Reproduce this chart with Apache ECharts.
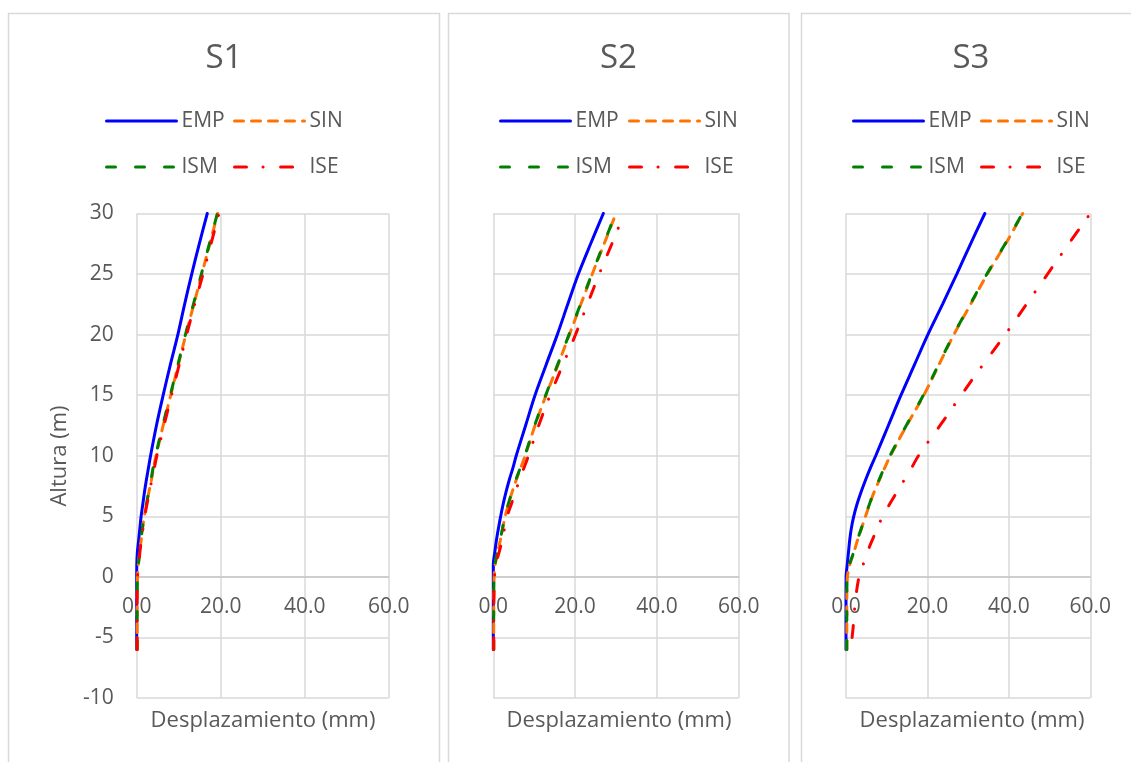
<!DOCTYPE html>
<html>
<head>
<meta charset="utf-8">
<script src="https://cdn.jsdelivr.net/npm/echarts@6.0.0/dist/echarts.min.js"></script>
<style>
html,body{margin:0;padding:0;background:#ffffff;}
#chart{width:1131px;height:762px;}
</style>
</head>
<body>
<div id="chart"></div>
<script>
// ---- Data ----
const panelTitles = ['S1', 'S2', 'S3'];
const seriesNames = ['EMP', 'SIN', 'ISM', 'ISE'];
const xTicks = [0, 20, 40, 60];                        // Desplazamiento (mm)
const yTicks = [-10, -5, 0, 5, 10, 15, 20, 25, 30];    // Altura (m)

// heights (m) at which displacements were read
const heights = [-6, -4, -2, 0, 1, 2, 3, 4, 5, 6, 7, 8, 9, 10, 12.5, 15, 17.5, 20, 22.5, 25, 27.5, 30];
const heightsS3ISE = [-5, -4, -2, 0, 1, 2, 3, 4, 5, 6, 7, 8, 9, 10, 12.5, 15, 17.5, 20, 22.5, 25, 27.5, 30];

// S1 displacements (mm)
const s1EMP = [0, 0, 0, 0, 0.02, 0.15, 0.45, 0.75, 1.05, 1.45, 1.85, 2.3, 2.8, 3.3, 4.7, 6.3, 8.0, 9.8, 11.4, 13.1, 14.9, 16.8];
const s1SIN = [0.1, 0.1, 0.1, 0.2, 0.4, 0.7, 1.05, 1.4, 1.8, 2.35, 2.9, 3.5, 4.0, 4.6, 6.3, 8.1, 9.9, 11.7, 13.6, 15.5, 17.4, 19.3];
const s1ISM = [0.1, 0.1, 0.1, 0.2, 0.4, 0.7, 1.0, 1.35, 1.75, 2.3, 2.85, 3.4, 3.9, 4.5, 6.2, 8.0, 9.8, 11.6, 13.5, 15.4, 17.3, 19.2];
const s1ISE = [0.1, 0.1, 0.1, 0.2, 0.45, 0.75, 1.1, 1.5, 1.9, 2.45, 3.0, 3.6, 4.2, 4.8, 6.5, 8.3, 10.1, 11.9, 13.8, 15.8, 17.7, 19.6];

// S2 displacements (mm)
const s2EMP = [0, 0, 0, 0, 0, 0.35, 0.75, 1.25, 1.8, 2.4, 3.1, 3.9, 4.8, 5.6, 7.9, 10.2, 12.9, 15.65, 18.2, 20.8, 23.8, 26.9];
const s2SIN = [0.1, 0.1, 0.1, 0.2, 0.45, 1.05, 1.7, 2.3, 2.9, 3.7, 4.6, 5.6, 6.7, 7.8, 10.2, 12.9, 15.8, 18.6, 21.4, 24.2, 27.1, 30.0];
const s2ISM = [0.1, 0.1, 0.1, 0.2, 0.4, 1.0, 1.65, 2.25, 2.85, 3.65, 4.55, 5.5, 6.6, 7.7, 10.1, 12.8, 15.7, 18.5, 21.3, 24.1, 27.0, 29.9];
const s2ISE = [0.1, 0.1, 0.15, 0.3, 0.6, 1.4, 2.15, 2.75, 3.4, 4.4, 5.4, 6.4, 7.5, 8.6, 11.1, 13.9, 17.0, 20.1, 23.0, 25.9, 29.0, 32.0];

// S3 displacements (mm)
const s3EMP = [0, 0, 0, 0.02, 0.3, 0.6, 0.9, 1.3, 1.9, 2.7, 3.7, 4.8, 6.0, 7.3, 10.4, 13.5, 16.8, 20.1, 23.7, 27.2, 30.6, 34.1];
const s3SIN = [0.2, 0.2, 0.2, 0.35, 0.9, 1.9, 2.8, 3.8, 4.8, 5.8, 6.9, 8.2, 9.5, 10.9, 14.9, 19.1, 22.8, 26.5, 30.6, 34.7, 39.2, 43.4];
const s3ISM = [0.2, 0.2, 0.2, 0.3, 0.85, 1.85, 2.75, 3.75, 4.75, 5.75, 6.85, 8.1, 9.4, 10.8, 14.8, 19.0, 22.7, 26.4, 30.5, 34.6, 39.1, 43.3];
const s3ISE = [1.5, 1.8, 2.3, 3.2, 4.2, 5.2, 6.4, 7.7, 9.0, 10.7, 12.5, 14.3, 16.1, 17.8, 23.1, 28.3, 33.6, 39.1, 44.3, 49.5, 54.7, 60.0];

// ---- Assembly ----
const panelData = [
  { EMP: [s1EMP, heights], SIN: [s1SIN, heights], ISM: [s1ISM, heights], ISE: [s1ISE, heights] },
  { EMP: [s2EMP, heights], SIN: [s2SIN, heights], ISM: [s2ISM, heights], ISE: [s2ISE, heights] },
  { EMP: [s3EMP, heights], SIN: [s3SIN, heights], ISM: [s3ISM, heights], ISE: [s3ISE, heightsS3ISE] }
];

const styles = {
  EMP: { color: '#0000ff', type: 'solid' },
  SIN: { color: '#ff7300', type: [9, 8] },
  ISM: { color: '#008000', type: [9, 20] },
  ISE: { color: '#ff0000', type: [12, 16.5, 0.1, 17.5] }
};

const FONT = '"Open Sans", "Noto Sans", sans-serif';
const TXT = '#595959';
const GRIDC = '#d9d9d9';

// layout of the three panels
const gridLayout = [
  { left: 136.7, width: 252.0 },
  { left: 493.3, width: 245.4 },
  { left: 846.0, width: 244.3 }
];
const gridTop = 213.5, gridHeight = 484.5;
const yMin = yTicks[0], yMax = yTicks[yTicks.length - 1];
// place the x axis (line + labels) where height = 0
const xAxisOffset = -gridHeight * (0 - yMin) / (yMax - yMin);

const panelBoxes = [
  { x: 8.5, w: 431 },
  { x: 448.5, w: 340.5 },
  { x: 801.5, w: 340 }
];
const titleX = [224, 618.5, 971];
const xNameX = [263, 619, 972];
const legendCols = [[105, 233], [499, 628], [852, 980]];
const legendRows = [109, 155];

const grids = [], xAxes = [], yAxes = [], series = [], legends = [], graphics = [];

panelBoxes.forEach(b => {
  graphics.push({
    type: 'rect', silent: true, z: 0,
    shape: { x: b.x, y: 13.5, width: b.w, height: 800 },
    style: { fill: 'none', stroke: GRIDC, lineWidth: 1.5 }
  });
});

panelTitles.forEach((t, p) => {
  grids.push({ left: gridLayout[p].left, width: gridLayout[p].width, top: gridTop, height: gridHeight, containLabel: false });
  xAxes.push({
    gridIndex: p, type: 'value', min: xTicks[0], max: xTicks[xTicks.length - 1], interval: xTicks[1] - xTicks[0],
    position: 'bottom', offset: xAxisOffset,
    axisLine: { show: true, onZero: false, lineStyle: { color: '#c8c8c8', width: 1.5 } },
    axisTick: { show: false },
    axisLabel: { formatter: v => v.toFixed(1), fontSize: 21, color: TXT, fontFamily: FONT, margin: 20, hideOverlap: false, showMinLabel: true, showMaxLabel: true },
    splitLine: { show: true, lineStyle: { color: GRIDC, width: 1.5 } }
  });
  yAxes.push({
    gridIndex: p, type: 'value', min: yMin, max: yMax, interval: yTicks[1] - yTicks[0],
    axisLine: { show: false, onZero: false },
    axisTick: { show: false },
    axisLabel: { show: p === 0, fontSize: 21, color: TXT, fontFamily: FONT, margin: 23, hideOverlap: false },
    splitLine: { show: true, lineStyle: { color: GRIDC, width: 1.5 } }
  });
  seriesNames.forEach((name, k) => {
    const [xs, hs] = panelData[p][name];
    const st = styles[name];
    series.push({
      type: 'line', name: name, xAxisIndex: p, yAxisIndex: p,
      data: xs.map((x, i) => [x, hs[i]]),
      symbol: 'none', smooth: 0.35, silent: true, animation: false, z: 2 + k,
      lineStyle: { color: st.color, width: 3, type: st.type, cap: 'round' },
      itemStyle: { color: st.color }
    });
    legends.push({
      data: [name], left: legendCols[p][k % 2], top: legendRows[Math.floor(k / 2)],
      padding: 0, itemWidth: 70, itemHeight: 24, itemGap: 0, selectedMode: false,
      textStyle: { fontSize: 21, color: TXT, fontFamily: FONT, lineHeight: 24 },
      lineStyle: { width: 3, color: st.color, type: st.type, cap: 'round' },
      itemStyle: { opacity: 0 }
    });
  });
  graphics.push({
    type: 'text', silent: true, x: titleX[p], y: 59,
    style: { text: t, fontSize: 33, fontFamily: FONT, fill: TXT, align: 'center', verticalAlign: 'middle', textAlign: 'center', textVerticalAlign: 'middle' }
  });
  graphics.push({
    type: 'text', silent: true, x: xNameX[p], y: 721,
    style: { text: 'Desplazamiento (mm)', fontSize: 22, fontFamily: FONT, fill: TXT, align: 'center', verticalAlign: 'middle', textAlign: 'center', textVerticalAlign: 'middle' }
  });
});

graphics.push({
  type: 'text', silent: true, x: 60, y: 456, rotation: Math.PI / 2,
  style: { text: 'Altura (m)', fontSize: 22, fontFamily: FONT, fill: TXT, align: 'center', verticalAlign: 'middle', textAlign: 'center', textVerticalAlign: 'middle' }
});

const chart = echarts.init(document.getElementById('chart'), null, { renderer: 'canvas' });
chart.setOption({
  backgroundColor: '#ffffff',
  animation: false,
  grid: grids,
  xAxis: xAxes,
  yAxis: yAxes,
  legend: legends,
  series: series,
  graphic: graphics
});
</script>
</body>
</html>
